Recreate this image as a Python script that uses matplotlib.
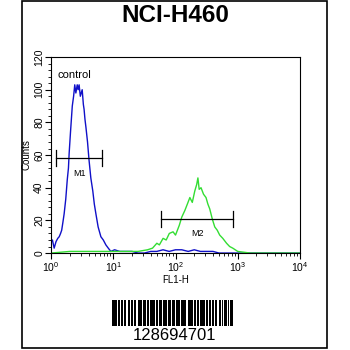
import numpy as np
import matplotlib.pyplot as plt
from matplotlib.patches import Rectangle
from matplotlib.ticker import LogLocator, MultipleLocator

plt.rcParams['font.family'] = ['Liberation Sans', 'DejaVu Sans']
plt.rcParams['mathtext.default'] = 'regular'

title = 'NCI-H460'
barcode_text = '128694701'

# control histogram (blue)
blue_x = [1.0, 1.05, 1.12, 1.2, 1.28, 1.35, 1.42, 1.48, 1.55, 1.62, 1.72, 1.82, 1.9, 1.95,
          2.05, 2.19, 2.3, 2.4, 2.5, 2.63, 2.72, 2.82, 2.95, 3.16, 3.3, 3.39, 3.5, 3.63,
          3.85, 4.07, 4.35, 4.68, 4.95, 5.25, 5.7, 6.31, 6.9, 7.59, 8.3, 9.12, 10.5,
          12.6, 16, 20, 25, 31.6, 40, 50, 63, 79, 100, 126, 160, 200, 251, 316, 400,
          500, 794, 1585, 3981, 10000]
blue_y = [7, 8, 3, 7, 9, 10, 12, 14, 19, 24, 33, 45, 52, 61,
          74, 90, 96, 103, 98, 103, 100, 103, 96, 100, 91, 88, 82, 77,
          68, 57, 46, 38, 30, 24, 16, 10, 8, 5, 3, 1, 2,
          1, 1, 1, 0, 0, 1, 1, 2, 1, 2, 2, 1, 2, 1, 1, 1,
          0, 0, 0, 0, 0]

# sample histogram (green)
green_x = [1.0, 2.0, 4.0, 8.0, 16, 25, 35.5, 42.7, 50.1, 55, 63.1, 70.8, 79.4, 91.2,
           100, 115, 126, 141, 155, 170, 186, 204, 219, 229, 240, 257, 282, 309, 331,
           355, 389, 427, 468, 513, 575, 661, 741, 832, 1000, 1585, 10000]
green_y = [0, 1, 1, 1, 1, 1, 2, 3, 6, 5, 9, 8, 12, 13,
           11, 17, 22, 26, 30, 34, 31, 38, 42, 46, 39, 40, 36, 34, 30,
           27, 21, 16, 14, 11, 9, 6, 4, 3, 1, 0, 0]

# gate markers: (low, high, level, label)
gates = [(1.22, 6.7, 58, 'M1'), (58.7, 838, 21, 'M2')]

fig = plt.figure(figsize=(3.5, 3.5), dpi=100)
fig.patches.append(Rectangle((0.063, 0.006), 0.871, 0.991, transform=fig.transFigure,
                             fill=False, edgecolor='black', linewidth=1.2))
fig.text(0.5, 0.955, title, ha='center', va='center', fontsize=17.5, fontweight='bold')

ax = fig.add_axes([0.146, 0.277, 0.711, 0.56])
ax.plot(blue_x, blue_y, color='#1010c8', lw=1.0)
ax.plot(green_x, green_y, color='#33dd33', lw=1.0)

for lo, hi, lvl, name in gates:
    ax.plot([lo, hi], [lvl, lvl], color='black', lw=0.9)
    ax.plot([lo, lo], [lvl - 5, lvl + 5], color='black', lw=0.9)
    ax.plot([hi, hi], [lvl - 5, lvl + 5], color='black', lw=0.9)
    ax.text(np.sqrt(lo * hi), lvl - 6.5, name, ha='center', va='top', fontsize=6.5)

ax.text(1.25, 109, 'control', ha='left', va='center', fontsize=8)

ax.set_xscale('log')
ax.set_xlim(1, 10000)
ax.set_ylim(0, 120)
ax.xaxis.set_major_locator(LogLocator(base=10))
ax.xaxis.set_minor_locator(LogLocator(base=10, subs=np.arange(2, 10)))
ax.yaxis.set_major_locator(MultipleLocator(20))
ax.yaxis.set_minor_locator(MultipleLocator(4))
ax.tick_params(which='major', length=4, width=0.8, labelsize=7.5, pad=1)
ax.tick_params(which='minor', length=2, width=0.6)
for lab in ax.get_yticklabels():
    lab.set_rotation(90)
    lab.set_va('center')
ax.set_ylabel('Counts', fontsize=7, labelpad=2)
ax.set_xlabel('FL1-H', fontsize=7, labelpad=1)

# barcode (alternating bar / space widths)
bar_widths = [3, 1, 2, 1, 2, 1, 3, 1, 2, 2, 3, 1, 2, 1, 3, 2, 2, 1, 2, 1, 3, 2, 2, 1,
              3, 1, 2, 1, 2, 2, 3, 1, 2, 1, 2, 1, 3, 2, 3, 1, 2, 1, 2, 1, 3, 1, 2, 2,
              2, 1, 3, 1, 2, 2, 2, 1, 3, 1, 2, 1, 2, 1, 3, 1, 2, 1, 3, 2, 2, 1, 2, 1,
              3, 1, 2, 1, 3]
edges = np.concatenate([[0], np.cumsum(bar_widths)])
bax = fig.add_axes([0.32, 0.07, 0.345, 0.072])
for i, w in enumerate(bar_widths):
    if i % 2 == 0:
        bax.bar(edges[i], 1, width=w, align='edge', color='black', linewidth=0)
bax.set_xlim(0, edges[-1])
bax.set_ylim(0, 1)
bax.axis('off')
fig.text(0.5, 0.04, barcode_text, ha='center', va='center', fontsize=12)

fig.savefig('out.png', dpi=100)
